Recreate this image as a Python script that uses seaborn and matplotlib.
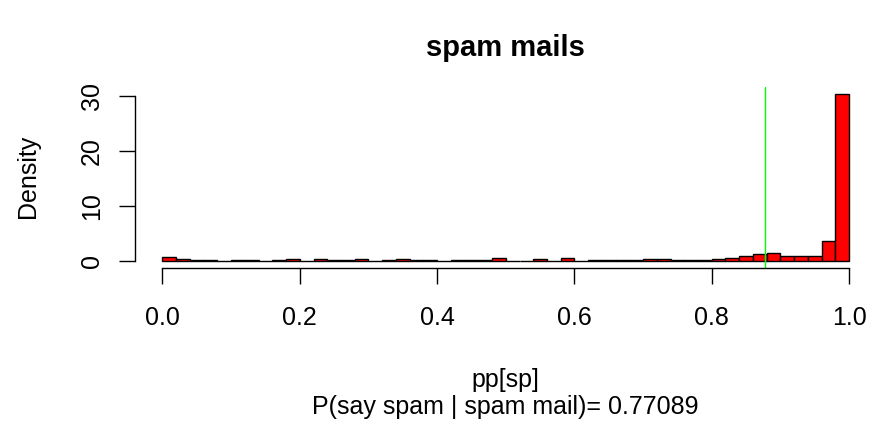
import numpy as np
import pandas as pd
import matplotlib
matplotlib.use("Agg")
import matplotlib.pyplot as plt
import seaborn as sns

# Histogram of predicted spam probabilities for spam mails (bin width 0.02)
bin_edges = [round(i * 0.02, 2) for i in range(51)]
density = [
    0.80, 0.35, 0.10, 0.10, 0.05, 0.20, 0.20, 0.05, 0.15, 0.30,
    0.05, 0.40, 0.15, 0.15, 0.30, 0.05, 0.20, 0.40, 0.25, 0.10,
    0.05, 0.25, 0.15, 0.10, 0.50, 0.05, 0.05, 0.40, 0.05, 0.55,
    0.05, 0.20, 0.20, 0.20, 0.20, 0.35, 0.35, 0.20, 0.15, 0.15,
    0.30, 0.55, 0.85, 1.20, 1.50, 0.85, 0.85, 0.85, 3.60, 30.40,
]
threshold = 0.878
x_ticks = [0.0, 0.2, 0.4, 0.6, 0.8, 1.0]
y_ticks = [0, 10, 20, 30]
title = "spam mails"
x_label = "pp[sp]"
sub_label = "P(say spam | spam mail)= 0.77089"
y_label = "Density"

sns.set_theme(style="white")
plt.rcParams["font.family"] = ["Liberation Sans", "DejaVu Sans"]
plt.rcParams["text.color"] = "black"

fig = plt.figure(figsize=(8.78, 4.25), dpi=100)
ax = fig.add_axes([0.1538, 0.370, 0.8445, 0.425])

edges = np.array(bin_edges)
df = pd.DataFrame({
    "pp": (edges[:-1] + edges[1:]) / 2,
    "density": density,
})
sns.histplot(data=df, x="pp", weights="density", bins=bin_edges, stat="count",
             color="#ff0000", alpha=1.0, edgecolor="black", linewidth=1.0, ax=ax)
ax.axvline(threshold, color="#00ff00", lw=1.0)

ax.set_xlim(-0.04, 1.04)
ax.set_ylim(-1.22, 31.6)
ax.set_xticks(x_ticks)
ax.set_xticklabels([f"{t:.1f}" for t in x_ticks])
ax.set_yticks(y_ticks)
ax.set_yticklabels([str(t) for t in y_ticks], rotation=90, va="center")
ax.set_xlabel("")
ax.set_ylabel("")

for side in ["top", "right"]:
    ax.spines[side].set_visible(False)
for side in ["left", "bottom"]:
    ax.spines[side].set_color("black")
    ax.spines[side].set_linewidth(1.0)
ax.spines["left"].set_bounds(0, 30)
ax.spines["bottom"].set_bounds(0, 1)

ax.tick_params(axis="both", which="major", direction="out", length=11.5, width=1.0,
               color="black", labelsize=18, labelcolor="black",
               bottom=True, left=True, top=False, right=False)
ax.tick_params(axis="x", pad=16)
ax.tick_params(axis="y", pad=11)
ax.grid(False)

fig.text(505 / 878, 1 - 48 / 425, title, ha="center", va="center",
         fontsize=21, fontweight="bold", color="black")
fig.text(505 / 878, 1 - 380 / 425, x_label, ha="center", va="center",
         fontsize=18, color="black")
fig.text(505 / 878, 1 - 407 / 425, sub_label, ha="center", va="center",
         fontsize=18, color="black")
fig.text(28 / 878, 1 - 176 / 425, y_label, ha="center", va="center",
         rotation=90, fontsize=18, color="black")

fig.savefig("out.png", dpi=100)
